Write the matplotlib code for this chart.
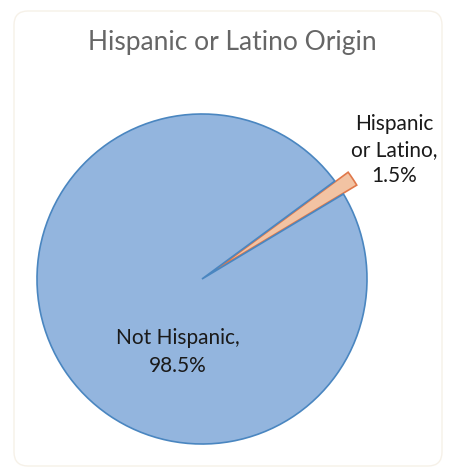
import matplotlib.pyplot as plt
from matplotlib.patches import FancyBboxPatch

# slice data
labels = ['Hispanic\nor Latino,\n1.5%', 'Not Hispanic,\n98.5%']
shares = [1.5, 98.5]
colors = ['#f2c3a3', '#93b5de']
edges = ['#e0784a', '#4a86c0']

fig = plt.figure(figsize=(4.56, 4.76), dpi=100)
ax = fig.add_axes([0, 0, 1, 1])

# faint rounded frame around the chart
frame = FancyBboxPatch((14, 10), 428, 455, boxstyle='round,pad=0,rounding_size=14',
                       facecolor='white', edgecolor='#f6f1e8', linewidth=1.0)
ax.add_patch(frame)

# explode is given in data units here (radius is 165)
wedges, _ = ax.pie(shares, colors=colors, startangle=31, counterclock=True,
                   center=(202, 197), radius=165, explode=[16, 0],
                   wedgeprops=dict(linewidth=1.2), frame=True)
for w, ec in zip(wedges, edges):
    w.set_edgecolor(ec)
ax.set_xlim(0, 456)
ax.set_ylim(0, 476)
ax.set_aspect('equal')
ax.axis('off')

ax.text(232, 476 - 42, 'Hispanic or Latino Origin', ha='center', va='center',
        fontsize=19, color='#666666', family='Lato')

ax.text(394, 476 - 150, labels[0], ha='center', va='center', fontsize=15,
        family='Lato', color='#1a1a1a', linespacing=1.35)
ax.text(178, 476 - 352, labels[1], ha='center', va='center', fontsize=15,
        family='Lato', color='#1a1a1a', linespacing=1.45)

fig.savefig('out.png', dpi=100)
